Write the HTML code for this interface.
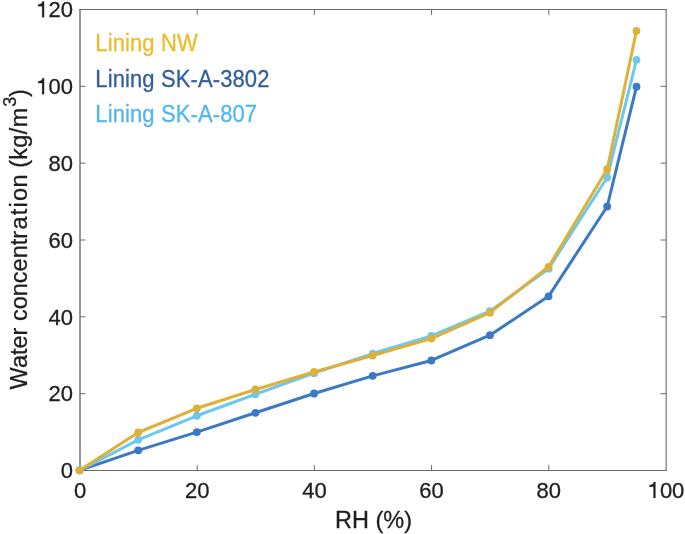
<!DOCTYPE html>
<html><head><meta charset="utf-8"><style>
html,body{margin:0;padding:0;background:#fff;}
body{width:685px;height:534px;overflow:hidden;}
svg{display:block;will-change:transform;font-family:"Liberation Sans", sans-serif;}
</style></head><body>
<svg width="685" height="534" viewBox="0 0 685 534">
<path d="M79.3,9.5H666.75M79.3,470.5H666.75" stroke="#6a6a6a" stroke-width="1.0" fill="none"/>
<path d="M80.0,9.0V471.0" stroke="#6a6a6a" stroke-width="1.4" fill="none"/>
<path d="M666.19,9.0V471.0" stroke="#6a6a6a" stroke-width="1.11" fill="none"/>
<path d="M197.20,470.5V465.1M197.20,9.5V14.9M314.40,470.5V465.1M314.40,9.5V14.9M431.60,470.5V465.1M431.60,9.5V14.9M548.80,470.5V465.1M548.80,9.5V14.9M80.0,393.67H85.4M666.0,393.67H660.6M80.0,316.83H85.4M666.0,316.83H660.6M80.0,240.00H85.4M666.0,240.00H660.6M80.0,163.17H85.4M666.0,163.17H660.6M80.0,86.33H85.4M666.0,86.33H660.6" stroke="#6a6a6a" stroke-width="1.0" fill="none"/>
<polyline points="79.60,470.30 138.22,450.33 196.84,432.09 255.46,412.78 314.08,393.50 372.70,375.84 431.32,360.48 489.94,335.13 548.56,296.35 607.18,206.49 636.49,86.68" fill="none" stroke="#3A79C3" stroke-width="3.0" stroke-linejoin="round" stroke-linecap="round"/>
<circle cx="79.60" cy="470.30" r="3.9" fill="#3A79C3"/>
<circle cx="138.22" cy="450.33" r="3.9" fill="#3A79C3"/>
<circle cx="196.84" cy="432.09" r="3.9" fill="#3A79C3"/>
<circle cx="255.46" cy="412.78" r="3.9" fill="#3A79C3"/>
<circle cx="314.08" cy="393.50" r="3.9" fill="#3A79C3"/>
<circle cx="372.70" cy="375.84" r="3.9" fill="#3A79C3"/>
<circle cx="431.32" cy="360.48" r="3.9" fill="#3A79C3"/>
<circle cx="489.94" cy="335.13" r="3.9" fill="#3A79C3"/>
<circle cx="548.56" cy="296.35" r="3.9" fill="#3A79C3"/>
<circle cx="607.18" cy="206.49" r="3.9" fill="#3A79C3"/>
<circle cx="636.49" cy="86.68" r="3.9" fill="#3A79C3"/>
<polyline points="79.60,470.30 138.22,439.81 196.84,415.77 255.46,394.27 314.08,373.15 372.70,353.56 431.32,335.90 489.94,311.13 548.56,268.70 607.18,177.50 636.49,59.80" fill="none" stroke="#6CC8EC" stroke-width="3.0" stroke-linejoin="round" stroke-linecap="round"/>
<circle cx="79.60" cy="470.30" r="3.9" fill="#6CC8EC"/>
<circle cx="138.22" cy="439.81" r="3.9" fill="#6CC8EC"/>
<circle cx="196.84" cy="415.77" r="3.9" fill="#6CC8EC"/>
<circle cx="255.46" cy="394.27" r="3.9" fill="#6CC8EC"/>
<circle cx="314.08" cy="373.15" r="3.9" fill="#6CC8EC"/>
<circle cx="372.70" cy="353.56" r="3.9" fill="#6CC8EC"/>
<circle cx="431.32" cy="335.90" r="3.9" fill="#6CC8EC"/>
<circle cx="489.94" cy="311.13" r="3.9" fill="#6CC8EC"/>
<circle cx="548.56" cy="268.70" r="3.9" fill="#6CC8EC"/>
<circle cx="607.18" cy="177.50" r="3.9" fill="#6CC8EC"/>
<circle cx="636.49" cy="59.80" r="3.9" fill="#6CC8EC"/>
<polyline points="79.60,470.30 138.22,432.51 196.84,408.28 255.46,389.47 314.08,372.00 372.70,355.48 431.32,338.59 489.94,312.67 548.56,266.78 607.18,169.24 636.49,30.81" fill="none" stroke="#DDB038" stroke-width="3.0" stroke-linejoin="round" stroke-linecap="round"/>
<circle cx="79.60" cy="470.30" r="3.9" fill="#DDB038"/>
<circle cx="138.22" cy="432.51" r="3.9" fill="#DDB038"/>
<circle cx="196.84" cy="408.28" r="3.9" fill="#DDB038"/>
<circle cx="255.46" cy="389.47" r="3.9" fill="#DDB038"/>
<circle cx="314.08" cy="372.00" r="3.9" fill="#DDB038"/>
<circle cx="372.70" cy="355.48" r="3.9" fill="#DDB038"/>
<circle cx="431.32" cy="338.59" r="3.9" fill="#DDB038"/>
<circle cx="489.94" cy="312.67" r="3.9" fill="#DDB038"/>
<circle cx="548.56" cy="266.78" r="3.9" fill="#DDB038"/>
<circle cx="607.18" cy="169.24" r="3.9" fill="#DDB038"/>
<circle cx="636.49" cy="30.81" r="3.9" fill="#DDB038"/>

<g fill="#1f1f1f" stroke="#1f1f1f" stroke-width="0.3" font-size="22"><text transform="translate(73.88,497.90) scale(1,1.03)">0</text><text transform="translate(184.97,497.90) scale(1,1.03)">2</text><text transform="translate(197.20,497.90) scale(1,1.03)">0</text><text transform="translate(302.17,497.90) scale(1,1.03)">4</text><text transform="translate(314.40,497.90) scale(1,1.03)">0</text><text transform="translate(419.37,497.90) scale(1,1.03)">6</text><text transform="translate(431.60,497.90) scale(1,1.03)">0</text><text transform="translate(536.57,497.90) scale(1,1.03)">8</text><text transform="translate(548.80,497.90) scale(1,1.03)">0</text><path transform="translate(647.65,497.90) scale(22,-22.66)" d="M0.352,0L0.352,0.70L0.282,0.70Q0.262,0.572 0.085,0.560L0.085,0.492L0.268,0.492L0.268,0Z" stroke-width="0.0136"/><text transform="translate(659.88,497.90) scale(1,1.03)">0</text><text transform="translate(672.12,497.90) scale(1,1.03)">0</text><text transform="translate(60.77,478.30) scale(1,1.03)">0</text><text transform="translate(48.54,401.47) scale(1,1.03)">2</text><text transform="translate(60.77,401.47) scale(1,1.03)">0</text><text transform="translate(48.54,324.63) scale(1,1.03)">4</text><text transform="translate(60.77,324.63) scale(1,1.03)">0</text><text transform="translate(48.54,247.80) scale(1,1.03)">6</text><text transform="translate(60.77,247.80) scale(1,1.03)">0</text><text transform="translate(48.54,170.97) scale(1,1.03)">8</text><text transform="translate(60.77,170.97) scale(1,1.03)">0</text><path transform="translate(36.30,94.13) scale(22,-22.66)" d="M0.352,0L0.352,0.70L0.282,0.70Q0.262,0.572 0.085,0.560L0.085,0.492L0.268,0.492L0.268,0Z" stroke-width="0.0136"/><text transform="translate(48.54,94.13) scale(1,1.03)">0</text><text transform="translate(60.77,94.13) scale(1,1.03)">0</text><path transform="translate(36.30,17.30) scale(22,-22.66)" d="M0.352,0L0.352,0.70L0.282,0.70Q0.262,0.572 0.085,0.560L0.085,0.492L0.268,0.492L0.268,0Z" stroke-width="0.0136"/><text transform="translate(48.54,17.30) scale(1,1.03)">2</text><text transform="translate(60.77,17.30) scale(1,1.03)">0</text></g>
<text transform="translate(373.50,527.6) scale(1,1.02)" text-anchor="middle" fill="#1f1f1f" stroke="#1f1f1f" stroke-width="0.3" font-size="23.5">RH (%)</text>
<text transform="translate(27.2,389.4) rotate(-90)" fill="#1f1f1f" stroke="#1f1f1f" stroke-width="0.3" font-size="23.5"><tspan dx="0.00">Water concentr</tspan><tspan dx="1.50">a</tspan><tspan dx="1.10">t</tspan><tspan dx="1.20">i</tspan><tspan dx="1.20">o</tspan><tspan dx="0.60">n</tspan><tspan dx="0.00"> (</tspan><tspan dx="0.20">k</tspan><tspan dx="0.30">g</tspan><tspan dx="0.40">/</tspan><tspan dx="0.40">m</tspan><tspan font-size="18" dy="-11.6" dx="1.10">3</tspan><tspan dy="11.6" dx="-0.5">)</tspan></text>
<g font-size="22" letter-spacing="0.12"><text transform="translate(95.3,50.7) scale(1,1.1)" fill="#EBBC2C" stroke="#EBBC2C" stroke-width="0.3">Lining NW</text><text transform="translate(95.3,86.6) scale(1,1.1)" fill="#325F9E" stroke="#325F9E" stroke-width="0.3">Lining SK-A-3802</text><text transform="translate(95.3,122.2) scale(1,1.1)" fill="#52B7EE" stroke="#52B7EE" stroke-width="0.3">Lining SK-A-807</text></g>
</svg>
</body></html>
